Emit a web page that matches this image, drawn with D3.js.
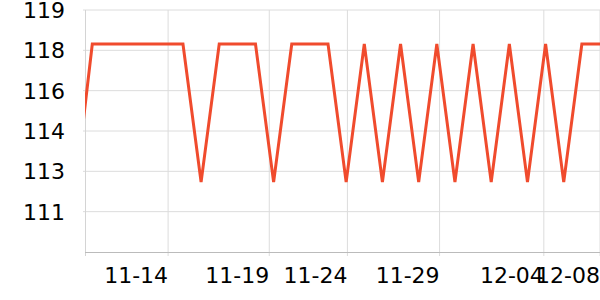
<!DOCTYPE html>
<html>
<head>
<meta charset="utf-8">
<script src="https://cdn.jsdelivr.net/npm/d3@7"></script>
<style>
  body { margin: 0; background: #fff; }
  svg { display: block; font-family: 'DejaVu Sans', sans-serif; }
  .grid line { stroke: #dcdcdc; stroke-width: 1; }
  .axis text { font-size: 22px; fill: #000; }
</style>
</head>
<body>
<div id="chart"></div>
<script>
// daily values, starting 2023-11-09
const startDay = '2023-11-09';
const values = [
  111.7, 117.85, 117.85, 117.85, 117.85, 117.85, 117.85, 112.37, 117.85, 117.85,
  117.85, 112.37, 117.85, 117.85, 117.85, 112.37, 117.85, 112.37, 117.85, 112.37,
  117.85, 112.37, 117.85, 112.37, 117.85, 112.37, 117.85, 112.37, 117.85, 117.85
];

// x axis ticks (as drawn in the source chart)
const xTickDates = ['2023-11-14T04:20', '2023-11-19T18:15', '2023-11-24T01:40',
  '2023-11-29T03:40', '2023-12-04T21:40', '2023-12-08T00:00'];
const xTickLabels = ['11-14', '11-19', '11-24', '11-29', '12-04', '12-08'];

// y axis ticks
const yTicks = [109.6, 111.2, 112.8, 114.4, 116.0, 117.6, 119.2];
const xDomain = ['2023-11-09T14:20', '2023-12-08T00:00'];

const width = 600;
const height = 300;
const margin = { top: 10, right: 0, bottom: 48, left: 85 };

const svg = d3.select('#chart')
  .append('svg')
  .attr('width', width)
  .attr('height', height);

const parse = d3.isoParse;
const day0 = parse(startDay + 'T00:00');
const data = values.map((v, i) => ({ date: d3.timeDay.offset(day0, i), value: v }));

const x = d3.scaleTime()
  .domain(xDomain.map(parse))
  .range([margin.left, width - margin.right]);

const y = d3.scaleLinear()
  .domain([yTicks[0], yTicks[yTicks.length - 1]])
  .range([height - margin.bottom, margin.top]);

const tickDates = xTickDates.map(parse);

// gridlines
const grid = svg.append('g').attr('class', 'grid');
grid.selectAll('.hline')
  .data(yTicks.slice(1))
  .enter()
  .append('line')
  .attr('x1', margin.left - 2)
  .attr('x2', width - margin.right)
  .attr('y1', d => y(d))
  .attr('y2', d => y(d));

grid.selectAll('.vline')
  .data(tickDates)
  .enter()
  .append('line')
  .attr('x1', d => x(d))
  .attr('x2', d => x(d))
  .attr('y1', margin.top)
  .attr('y2', height - margin.bottom + 4);

// axis lines
svg.append('line')
  .attr('x1', margin.left + 0.5)
  .attr('x2', margin.left + 0.5)
  .attr('y1', margin.top)
  .attr('y2', height - margin.bottom + 4)
  .attr('stroke', '#d4d4d4');

svg.append('line')
  .attr('x1', margin.left)
  .attr('x2', width - margin.right)
  .attr('y1', y(yTicks[0]) + 0.5)
  .attr('y2', y(yTicks[0]) + 0.5)
  .attr('stroke', '#bbbbbb');

// y labels
const yAxis = svg.append('g').attr('class', 'axis');
yAxis.selectAll('text')
  .data(yTicks.slice(1))
  .enter()
  .append('text')
  .attr('x', margin.left - 20)
  .attr('y', d => y(d))
  .attr('dy', '0.36em')
  .attr('text-anchor', 'end')
  .text(d => d3.format('.0f')(d));

// x labels (right aligned to their tick)
const xAxis = svg.append('g').attr('class', 'axis');
xAxis.selectAll('text')
  .data(tickDates)
  .enter()
  .append('text')
  .attr('x', d => x(d))
  .attr('y', height - margin.bottom + 31)
  .attr('text-anchor', 'end')
  .text((d, i) => xTickLabels[i]);

// line
svg.append('clipPath')
  .attr('id', 'clip')
  .append('rect')
  .attr('x', margin.left)
  .attr('y', 0)
  .attr('width', width - margin.left - margin.right)
  .attr('height', height - margin.bottom);

const line = d3.line()
  .x(d => x(d.date))
  .y(d => y(d.value));

svg.append('path')
  .datum(data)
  .attr('clip-path', 'url(#clip)')
  .attr('fill', 'none')
  .attr('stroke', '#f04b2d')
  .attr('stroke-width', 3)
  .attr('stroke-linejoin', 'miter')
  .attr('d', line);
</script>
</body>
</html>
